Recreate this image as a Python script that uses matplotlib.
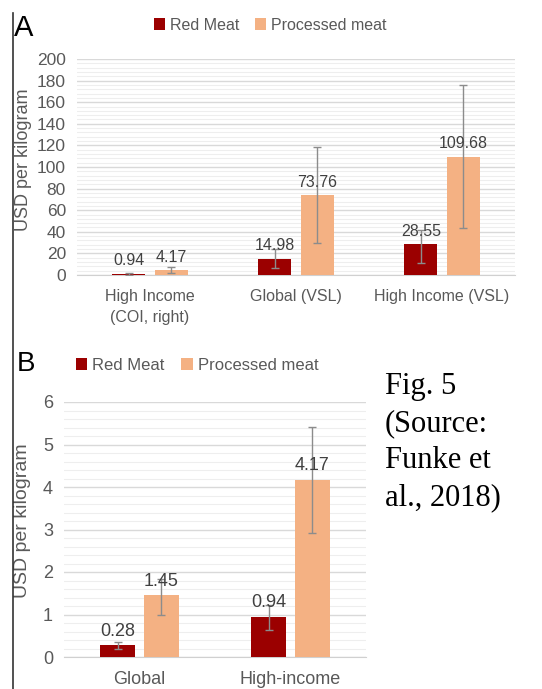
import matplotlib.pyplot as plt
import numpy as np
from matplotlib.lines import Line2D

plt.rcParams['font.family'] = ['Liberation Sans', 'DejaVu Sans']

RED = '#9b0000'
ORANGE = '#f4b183'
GRAY_TXT = '#595959'

# panel A data
cats_a = ['High Income\n(COI, right)', 'Global (VSL)', 'High Income (VSL)']
red_a = [0.94, 14.98, 28.55]
red_a_lo = [0.3, 6.2, 11.4]
red_a_hi = [1.6, 23.8, 41.7]
proc_a = [4.17, 73.76, 109.68]
proc_a_lo = [2.2, 29.4, 43.9]
proc_a_hi = [7.1, 118.7, 175.6]

# panel B data
cats_b = ['Global', 'High-income']
red_b = [0.28, 0.94]
red_b_lo = [0.20, 0.64]
red_b_hi = [0.35, 1.22]
proc_b = [1.45, 4.17]
proc_b_lo = [1.00, 2.92]
proc_b_hi = [1.84, 5.41]

W, H = 542, 689
fig = plt.figure(figsize=(W / 100, H / 100), dpi=100)


def px_axes(x0, y_top, x1, y_bot):
    return fig.add_axes([x0 / W, 1 - y_bot / H, (x1 - x0) / W, (y_bot - y_top) / H])


def draw_panel(ax, cats, red, rlo, rhi, proc, plo, phi, ymax, major, minor, fs, yfs, lbl_fmt):
    x = np.arange(len(cats))
    w = 0.228
    off = 0.145
    rerr = [np.array(red) - np.array(rlo), np.array(rhi) - np.array(red)]
    perr = [np.array(proc) - np.array(plo), np.array(phi) - np.array(proc)]
    ekw = dict(ecolor='#8c8c8c', elinewidth=1.0, capsize=3, capthick=1.0)
    b1 = ax.bar(x - off, red, w, color=RED, yerr=rerr, error_kw=ekw, zorder=3, label='Red Meat')
    b2 = ax.bar(x + off, proc, w, color=ORANGE, yerr=perr, error_kw=ekw, zorder=3, label='Processed meat')
    for bars, vals in ((b1, red), (b2, proc)):
        for b, v in zip(bars, vals):
            ax.annotate(lbl_fmt.format(v), (b.get_x() + b.get_width() / 2, v),
                        xytext=(0, 4), textcoords='offset points', ha='center', va='bottom',
                        fontsize=fs, color='#404040', zorder=5)
    ax.set_xlim(-0.5, len(cats) - 0.5)
    ax.set_ylim(0, ymax)
    ax.set_yticks(np.arange(0, ymax + major / 2, major))
    ax.set_yticks(np.arange(0, ymax + minor / 2, minor), minor=True)
    ax.grid(axis='y', which='major', color='#d9d9d9', linewidth=1.0, zorder=0)
    ax.grid(axis='y', which='minor', color='#eeeeee', linewidth=0.8, zorder=0)
    ax.set_xticks(x)
    ax.set_xticklabels(cats, fontsize=fs, color=GRAY_TXT, linespacing=1.5)
    ax.tick_params(axis='both', which='both', length=0, labelsize=fs, labelcolor=GRAY_TXT)
    ax.tick_params(axis='x', pad=10)
    ax.tick_params(axis='y', pad=8)
    for s in ('top', 'right', 'left'):
        ax.spines[s].set_visible(False)
    ax.spines['bottom'].set_color('#d0d0d0')
    ax.set_ylabel('USD per kilogram', fontsize=yfs, color=GRAY_TXT)
    return b1, b2


axA = px_axes(77, 59, 515, 275)
hA = draw_panel(axA, cats_a, red_a, red_a_lo, red_a_hi, proc_a, proc_a_lo, proc_a_hi,
                200, 20, 4, 11.5, 13, '{:.2f}')
axA.yaxis.set_label_coords(-0.125 + 10 / 438, 0.5 + 7 / 216)
for t in axA.get_yticklabels():
    t.set_fontsize(12.5)

axB = px_axes(64, 402, 366, 657)
hB = draw_panel(axB, cats_b, red_b, red_b_lo, red_b_hi, proc_b, proc_b_lo, proc_b_hi,
                6, 1, 0.2, 13, 14, '{:.2f}')
axB.yaxis.set_label_coords(-0.135 + 8 / 302, 0.5 + 9 / 255)

leg_kw = dict(ncol=2, frameon=False, handlelength=0.7, handleheight=0.7,
              handletextpad=0.3, columnspacing=1.0, loc='center',
              bbox_transform=fig.transFigure)
lA = fig.legend(hA, ['Red Meat', 'Processed meat'], bbox_to_anchor=(270 / W, 1 - 25 / H),
                fontsize=11.5, **leg_kw)
for t in lA.get_texts():
    t.set_color(GRAY_TXT)
lB = fig.legend(hB, ['Red Meat', 'Processed meat'], bbox_to_anchor=(197 / W, 1 - 365 / H),
                fontsize=12, **leg_kw)
for t in lB.get_texts():
    t.set_color(GRAY_TXT)

fig.text(14 / W, 1 - 28 / H, 'A', fontsize=21, va='center', ha='left')
fig.text(17 / W, 1 - 364 / H, 'B', fontsize=20, va='center', ha='left')

fig.text(385 / W, 1 - 372 / H, 'Fig. 5\n(Source:\nFunke et\nal., 2018)', fontsize=22,
         family='Liberation Serif', va='top', ha='left', linespacing=1.37,
         color='black')

fig.add_artist(Line2D([13 / W, 13 / W], [0, 1 - 13 / H], color='#333333', linewidth=1.2))

fig.savefig('out.png', dpi=100)
